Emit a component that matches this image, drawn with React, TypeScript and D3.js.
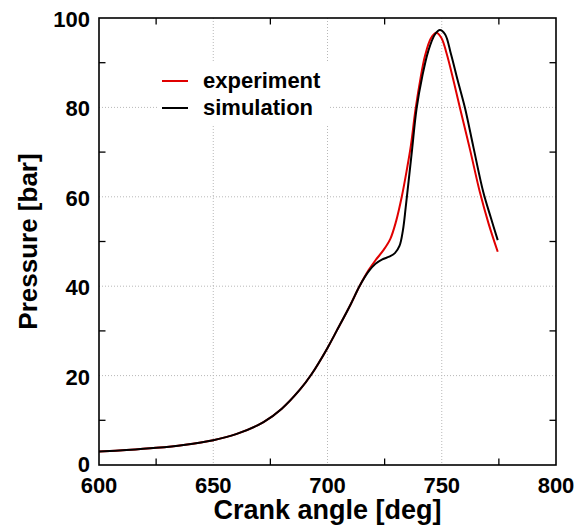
import React from "react";
import * as d3 from "d3";

const xTicks = [600, 650, 700, 750, 800];
const yTicks = [0, 20, 40, 60, 80, 100];
const xMinorTicks = [625, 675, 725, 775];
const yMinorTicks = [10, 30, 50, 70, 90];
const xGrid = [650, 700, 750];
const yGrid = [20, 40, 60, 80];

const experimentAngle = [600, 612, 625, 637, 650, 660, 672, 680, 688, 693, 700, 704, 710, 714, 718, 721, 724.4, 727.5, 730, 732.5, 734.7, 736.5, 738.5, 740.7, 742.7, 745.2, 747.5, 749.8, 752.1, 755, 758, 762.4, 766.7, 770.5, 774.5];
const experimentPressure = [3.0, 3.35, 3.85, 4.5, 5.55, 6.9, 9.6, 12.6, 16.9, 20.3, 26.2, 30.0, 35.8, 40.0, 43.6, 45.8, 48.0, 50.6, 54.5, 60.0, 66.0, 71.5, 79.5, 86.5, 91.6, 95.4, 96.7, 95.6, 92.1, 86.3, 79.8, 70.5, 61.0, 54.0, 47.7];
const simulationAngle = [600, 612, 625, 637, 650, 660, 672, 680, 688, 693, 700, 704, 710, 714, 718, 721, 724, 727, 729.5, 731.5, 733, 734.2, 735.5, 737, 739, 741.5, 744.1, 747, 749.2, 751.5, 754, 757, 760.2, 763.9, 768.2, 771.5, 774.5];
const simulationPressure = [3.0, 3.35, 3.85, 4.5, 5.55, 6.9, 9.6, 12.6, 16.9, 20.3, 26.2, 30.0, 35.8, 40.0, 43.3, 45.0, 46.0, 46.6, 47.4, 49.0, 52.5, 57.5, 63.5, 70.5, 79.8, 87.0, 92.6, 96.3, 97.3, 96.3, 92.0, 86.0, 79.8, 71.0, 61.0, 55.3, 50.3];

const seriesNames = ["experiment", "simulation"];
const seriesColors = ["#e00000", "#000000"];

const W = 579;
const H = 531;
const left = 99;
const right = 556;
const top = 18;
const bottom = 465;
const FONT = "'Liberation Sans', Arial, Helvetica, sans-serif";

export default function App() {
  const x = d3.scaleLinear().domain([600, 800]).range([left, right]);
  const y = d3.scaleLinear().domain([0, 100]).range([bottom, top]);
  const line = d3
    .line<[number, number]>()
    .x((d) => x(d[0]))
    .y((d) => y(d[1]))
    .curve(d3.curveCatmullRom.alpha(0.5));

  const exp = experimentAngle.map((a, i) => [a, experimentPressure[i]] as [number, number]);
  const sim = simulationAngle.map((a, i) => [a, simulationPressure[i]] as [number, number]);

  const tickLen = 6.5;

  return (
    <svg
      width={W}
      height={H}
      style={{ position: "absolute", left: 0, top: 0, background: "#fff" }}
      fontFamily={FONT}
    >
      <rect x={0} y={0} width={W} height={H} fill="#fff" />
      <g stroke="#b8b8b8" strokeWidth={1} strokeDasharray="1,2">
        {xGrid.map((v) => (
          <line key={"gx" + v} x1={x(v)} x2={x(v)} y1={top} y2={bottom} />
        ))}
        {yGrid.map((v) => (
          <line key={"gy" + v} x1={left} x2={right} y1={y(v)} y2={y(v)} />
        ))}
      </g>
      <rect x={157} y={62} width={173} height={62} fill="#fff" />
      <path d={line(exp) || ""} fill="none" stroke={seriesColors[0]} strokeWidth={2} strokeLinejoin="round" />
      <path d={line(sim) || ""} fill="none" stroke={seriesColors[1]} strokeWidth={2} strokeLinejoin="round" />
      <g stroke="#000" strokeWidth={1.3}>
        {xMinorTicks.map((v) => (
          <g key={"tx" + v}>
            <line x1={x(v)} x2={x(v)} y1={bottom} y2={bottom - tickLen} />
            <line x1={x(v)} x2={x(v)} y1={top} y2={top + tickLen} />
          </g>
        ))}
        {yMinorTicks.map((v) => (
          <g key={"ty" + v}>
            <line x1={left} x2={left + tickLen} y1={y(v)} y2={y(v)} />
            <line x1={right} x2={right - tickLen} y1={y(v)} y2={y(v)} />
          </g>
        ))}
      </g>
      <rect x={left} y={top} width={right - left} height={bottom - top} fill="none" stroke="#000" strokeWidth={1.6} />
      <g fontSize={22} fontWeight="bold" fill="#000">
        {xTicks.map((v) => (
          <text key={"lx" + v} x={x(v)} y={493} textAnchor="middle">
            {v}
          </text>
        ))}
        {yTicks.map((v) => (
          <text key={"ly" + v} x={90} y={v === 0 ? y(v) + 7 : y(v) + 9} textAnchor="end">
            {v}
          </text>
        ))}
      </g>
      <text x={(left + right) / 2} y={519} textAnchor="middle" fontSize={27} fontWeight="bold">
        Crank angle [deg]
      </text>
      <text
        transform={`translate(37, ${(top + bottom) / 2}) rotate(-90)`}
        textAnchor="middle"
        fontSize={26}
        fontWeight="bold"
      >
        Pressure [bar]
      </text>
      {seriesNames.map((n, i) => (
        <g key={n}>
          <line x1={162} x2={188} y1={81 + i * 27} y2={81 + i * 27} stroke={seriesColors[i]} strokeWidth={2} />
          <text x={203} y={88 + i * 27} fontSize={22} fontWeight="bold">
            {n}
          </text>
        </g>
      ))}
    </svg>
  );
}
